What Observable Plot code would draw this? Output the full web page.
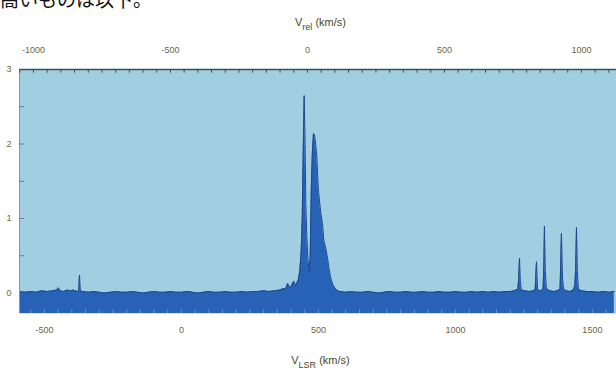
<!DOCTYPE html>
<html><head><meta charset="utf-8">
<script src="https://cdn.jsdelivr.net/npm/d3@7"></script>
<script src="https://cdn.jsdelivr.net/npm/@observablehq/plot@0.6"></script>
<style>
body{margin:0;background:#fff;width:616px;height:378px;overflow:hidden;}
#head{height:12px;overflow:hidden;position:relative;}
#head span{position:absolute;left:0;top:-11px;font-family:"Noto Sans CJK JP";font-size:19px;line-height:19px;color:#111;white-space:nowrap;}
#chart svg{display:block;}
</style></head><body>
<div id="head"><span>高いものは以下。</span></div>
<div id="chart"></div>
<script>
// Spectrum: V_LSR (km/s) and flux density
const vlsr = [
  -590,-570,-550,-530,-510,-490,-470,-455,-449,-443,-430,-416,-405,-395,-380,-375,-372,-369,-360,
  -340,-320,-300,-280,-260,-240,-220,-200,-180,-160,-140,-120,-100,-80,-60,-40,-20,
  0,20,40,60,80,100,120,140,160,180,200,220,240,260,280,300,320,340,360,372,
  380,388,395,402,410,416,422,427,432,437,441,445,448,451,454,458,462,466,
  470,474,478,482,486,490,494,500,508,515,520,527,533,540,545,552,560,570,
  580,600,620,640,660,680,700,720,740,760,780,800,820,840,860,880,900,920,940,960,980,
  1000,1020,1040,1060,1080,1100,1120,1140,1160,1180,1200,1215,1228,1231,1234,1237,1241,
  1255,1270,1283,1291,1296,1300,1310,1320,1323,1325,1328,1332,1345,1360,1372,1382,1387,1391,1395,
  1405,1418,1430,1436,1439,1442,1445,1449,1460,1480,1500,1520,1540,1560,1580
];
const flux = [
  0.02,0.01,0.02,0.01,0.03,0.02,0.03,0.04,0.07,0.03,0.02,0.04,0.03,0.04,0.02,0.03,0.24,0.03,0.02,
  0.01,0.02,0.01,0.00,0.01,0.02,0.01,0.01,0.02,0.01,0.00,0.01,0.02,0.01,0.01,0.02,0.01,
  0.01,0.02,0.01,0.00,0.01,0.02,0.01,0.01,0.02,0.01,0.01,0.02,0.01,0.02,0.02,0.03,0.02,0.03,0.04,0.06,
  0.05,0.13,0.07,0.10,0.16,0.10,0.14,0.18,0.30,0.55,1.00,2.00,2.65,2.10,1.20,0.75,0.45,0.28,
  0.50,1.40,1.90,2.14,2.12,2.00,1.85,1.38,1.10,0.93,0.70,0.60,0.48,0.30,0.20,0.12,0.07,0.03,
  0.02,0.01,0.02,0.01,0.01,0.02,0.01,0.00,0.01,0.02,0.01,0.01,0.02,0.01,0.01,0.02,0.01,0.01,0.02,0.01,0.01,
  0.02,0.01,0.01,0.02,0.01,0.02,0.01,0.02,0.01,0.02,0.02,0.03,0.05,0.20,0.47,0.15,0.04,
  0.03,0.02,0.03,0.04,0.42,0.04,0.03,0.05,0.40,0.90,0.30,0.06,0.03,0.02,0.03,0.05,0.80,0.20,0.05,
  0.03,0.02,0.04,0.10,0.33,0.88,0.30,0.05,0.03,0.02,0.02,0.01,0.02,0.01,0.02
];
// Axis ticks
const lsrTicks = [-500, 0, 500, 1000, 1500];
const relTicks = [-1000, -500, 0, 500, 1000];
const relOffset = 460;            // V_LSR = V_rel + 460
const relMinor = d3.range(-1150, 1151, 50);
const lsrMinor = d3.range(-550, 1551, 50);
const yTicks = [0, 1, 2, 3];
const yMinor = [0.5, 1, 1.5, 2, 2.5];

const data = vlsr.map((v, i) => ({v, f: flux[i]}));
const xDomain = [-591, 1588];
const yBottom = -0.275;
const tickColor = "#6a683c";

const chart = Plot.plot({
  width: 616, height: 366,
  marginTop: 57, marginBottom: 65, marginLeft: 19, marginRight: 0,
  x: {domain: xDomain, axis: null},
  y: {domain: [yBottom, 3], axis: null},
  style: {fontFamily: "Liberation Sans, Arial, sans-serif", background: "transparent", overflow: "visible"},
  marks: [
    Plot.frame({fill: "#a1cfe1", stroke: null}),
    Plot.areaY(data, {x: "v", y1: yBottom, y2: "f", fill: "#2862b6"}),
    Plot.lineY(data, {x: "v", y: "f", stroke: "#1c4a8f", strokeWidth: 1}),
    Plot.ruleY([3], {stroke: "#34535c", strokeWidth: 1.5}),
    Plot.ruleX([xDomain[0]], {y1: yBottom, y2: 3, stroke: "#7f9aa6", strokeWidth: 1}),
    Plot.ruleX(relMinor.filter(d => d + relOffset > xDomain[0] && d + relOffset < xDomain[1]),
      {x: d => d + relOffset, y1: 3, y2: 2.95, stroke: "#34535c"}),
    Plot.ruleX(lsrMinor, {x: d => d, y1: yBottom, y2: yBottom + 0.05, stroke: "#5f8fcf"}),
    Plot.ruleY(yMinor, {y: d => d, x1: xDomain[0], x2: xDomain[0] + 18, stroke: "#5b8196"}),
    Plot.axisX(relTicks.map(d => d + relOffset), {anchor: "top", tickSize: 0, tickPadding: 17,
      tickFormat: d => String(Math.round(d - relOffset)), label: null, fill: tickColor, fontSize: 9}),
    Plot.axisX(lsrTicks, {anchor: "bottom", tickSize: 0, tickPadding: 13,
      tickFormat: d => String(d), label: null, fill: tickColor, fontSize: 9}),
    Plot.axisY(yTicks, {anchor: "left", tickSize: 0, tickPadding: 8,
      tickFormat: d => String(d), label: null, fill: tickColor, fontSize: 9})
  ]
});
document.getElementById("chart").appendChild(chart);

// Axis titles with subscripts
const svg = d3.select(chart);
const cx = 19 + (616 - 19) / 2 + 3;
function title(y, sub) {
  const t = svg.append("text").attr("x", cx).attr("y", y).attr("text-anchor", "middle")
    .attr("font-family", "Liberation Sans, Arial, sans-serif").attr("font-size", 11).attr("fill", "#4a4826");
  t.append("tspan").text("V");
  t.append("tspan").attr("font-size", 9).attr("dy", 4).text(sub);
  t.append("tspan").attr("dy", -4).text(" (km/s)");
}
title(14, "rel");
title(352, "LSR");
</script>
</body></html>
